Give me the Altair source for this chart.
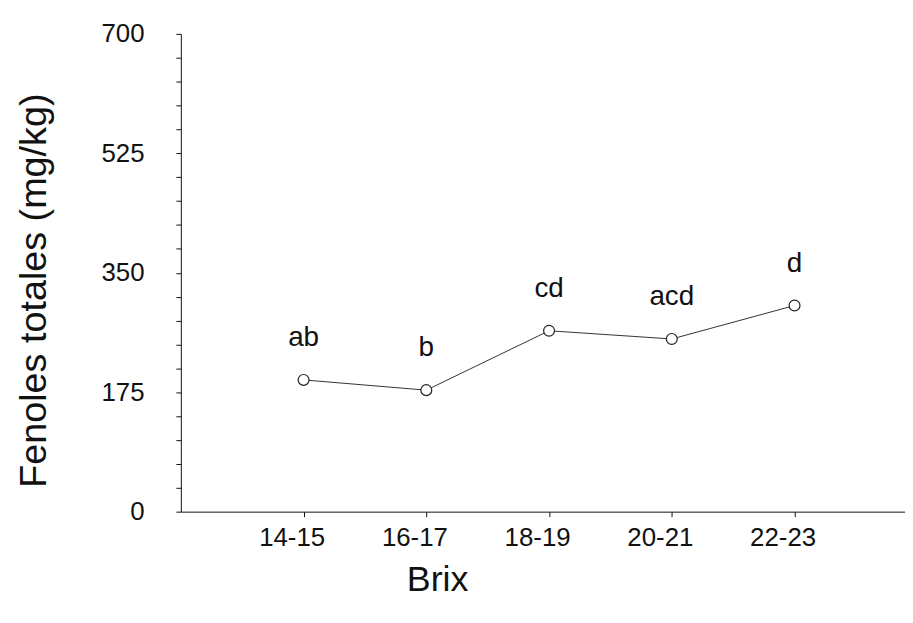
import json
import altair as alt
import pandas as pd

categories = ["14-15", "16-17", "18-19", "20-21", "22-23"]
values = [193, 178, 265, 253, 302]
letters = ["ab", "b", "cd", "acd", "d"]

y_ticks = list(range(0, 701, 35))

df = pd.DataFrame({
    "pos": list(range(1, len(categories) + 1)),
    "brix": categories,
    "fenoles": values,
    "letra": letters,
})

FONT = "Liberation Sans"
label_expr = json.dumps(categories) + "[datum.value - 1]"

x_enc = alt.X(
    "pos:Q",
    scale=alt.Scale(domain=[0, 5.9], nice=False, zero=False),
    axis=alt.Axis(
        values=list(range(1, len(categories) + 1)),
        tickCount=10,
        labelExpr=label_expr,
        labelOverlap=False,
        title="Brix",
        titleFontSize=36,
        titleFont=FONT,
        titleFontWeight="normal",
        titleX=258,
        titleY=68,
        titleAlign="center",
        titleBaseline="middle",
        labelFontSize=26,
        labelFont=FONT,
        labelPadding=8,
        labelOffset=-12,
        tickSize=5,
        grid=False,
    ),
)

y_enc = alt.Y(
    "fenoles:Q",
    scale=alt.Scale(domain=[0, 700], nice=False),
    axis=alt.Axis(
        values=y_ticks,
        tickCount=40,
        labelExpr="datum.value % 175 == 0 ? datum.label : ''",
        labelOverlap=False,
        title="Fenoles totales (mg/kg)",
        titleFontSize=38,
        titleFont=FONT,
        titleFontWeight="normal",
        titleX=-147,
        titleY=258,
        titleAlign="center",
        titleBaseline="middle",
        labelFontSize=26,
        labelFont=FONT,
        labelPadding=32,
        tickSize=5,
        grid=False,
    ),
)

base = alt.Chart(df)

line = base.mark_line(color="#333333", strokeWidth=1).encode(x=x_enc, y=y_enc)
points = base.mark_point(
    shape="circle", filled=True, fill="white", fillOpacity=1,
    stroke="#222222", strokeWidth=1.2, size=120,
).encode(x="pos:Q", y="fenoles:Q")
texts = base.mark_text(
    dy=-42, fontSize=28, font=FONT, color="#111111", baseline="middle",
).encode(x="pos:Q", y="fenoles:Q", text="letra:N")

chart = (
    alt.layer(line, points, texts)
    .properties(
        width=729,
        height=481,
        autosize=alt.AutoSizeParams(type="none"),
        padding={"left": 174, "top": 24, "right": 0, "bottom": 100},
    )
    .configure_view(stroke=None)
    .configure_axis(domainColor="#111111", tickColor="#111111", labelColor="#111111", titleColor="#111111")
)

chart.save("out.html", embed_options={"renderer": "svg", "actions": False})
